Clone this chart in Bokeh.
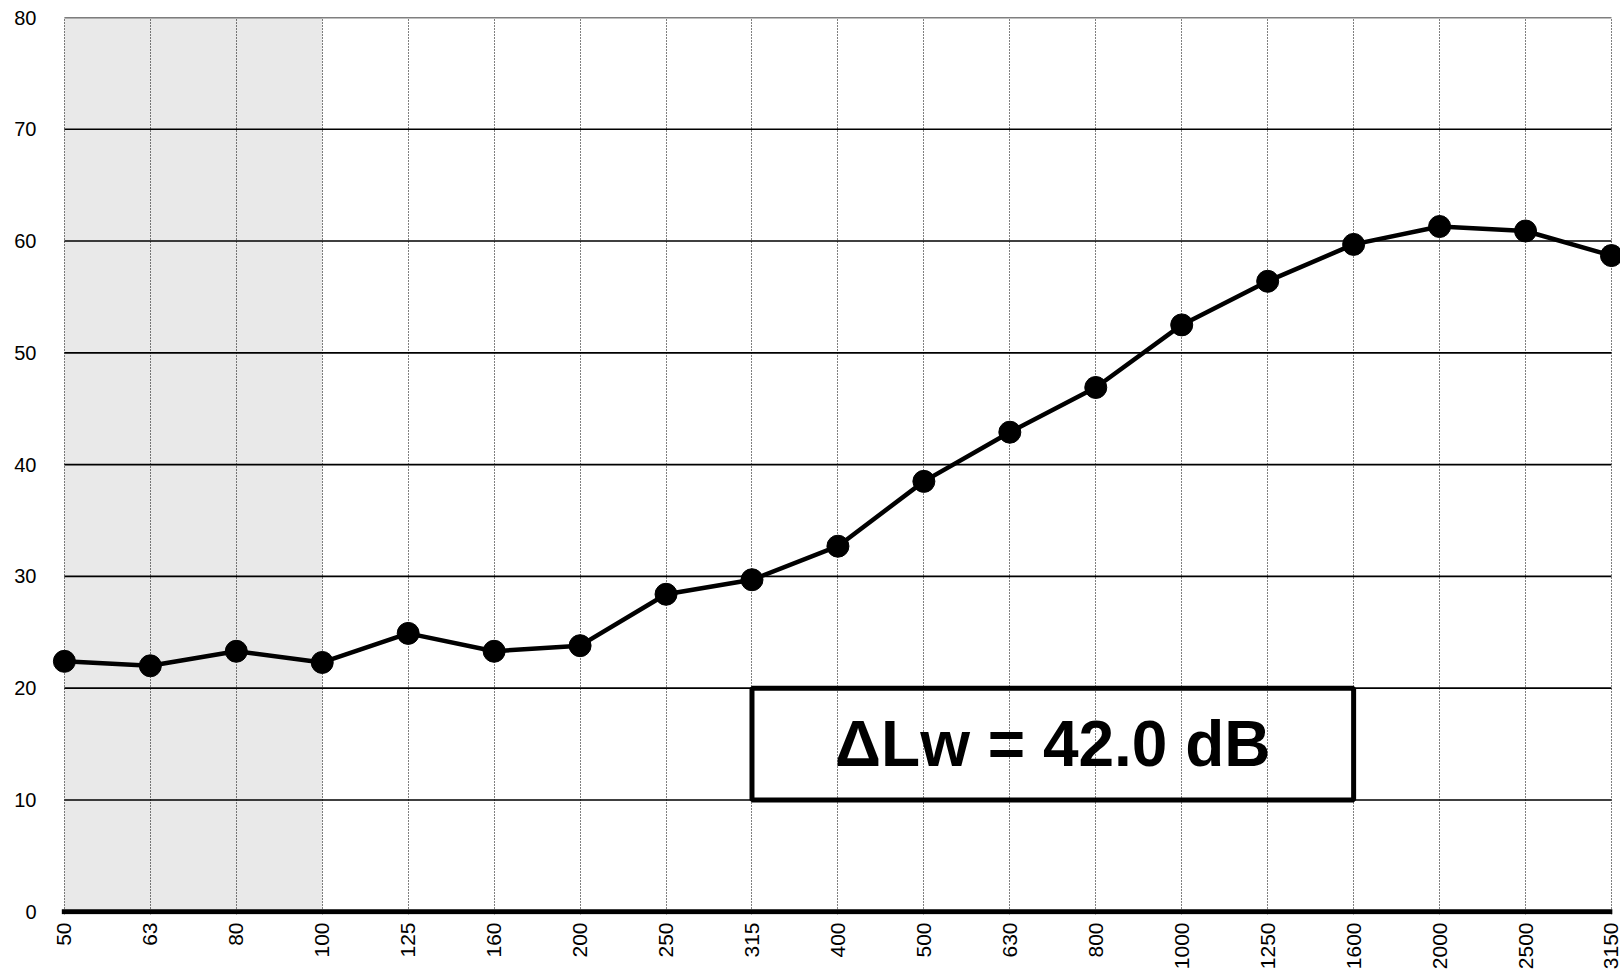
import math

from bokeh.embed import file_html
from bokeh.resources import INLINE
from bokeh.plotting import figure
from bokeh.models import Range1d, FixedTicker, ColumnDataSource
from bokeh.core.properties import value

# Third-octave band centre frequencies (Hz)
freqs = ["50", "63", "80", "100", "125", "160", "200", "250", "315", "400",
         "500", "630", "800", "1000", "1250", "1600", "2000", "2500", "3150"]

# Measured improvement per band (dB)
delta_l = [22.4, 22.0, 23.3, 22.3, 24.9, 23.3, 23.8, 28.4, 29.7, 32.7,
           38.5, 42.9, 46.9, 52.5, 56.4, 59.7, 61.3, 60.9, 58.7]

y_ticks = [0, 10, 20, 30, 40, 50, 60, 70, 80]

# Low-frequency band range that is shaded
shade_from, shade_to = "50", "100"

# Result box: band span and level span
box_from, box_to = "315", "1600"
box_low, box_high = 10, 20
result_label = "\u0394Lw = 42.0 dB"

FONT = "Liberation Sans"

x_idx = list(range(len(freqs)))
x_first, x_last = x_idx[0], x_idx[-1]
y_lo, y_hi = y_ticks[0], y_ticks[-1]
src = ColumnDataSource(dict(x=x_idx, y=delta_l))

# the frame is a little wider than the band range so end markers are not clipped
p = figure(width=1620, height=972, output_backend="svg", toolbar_location=None,
           x_range=Range1d(x_first - 0.15, x_last + 0.105),
           y_range=Range1d(y_lo - 0.25, y_hi),
           min_border_left=51, min_border_right=0, min_border_top=17, min_border_bottom=57)
p.outline_line_color = None
p.background_fill_color = "white"
p.border_fill_color = "white"

# shaded low-frequency region, beneath the grid
p.quad(left=[freqs.index(shade_from)], right=[freqs.index(shade_to)],
       bottom=[y_lo], top=[y_hi],
       fill_color="#e9e9e9", line_color=None, level="image")

# vertical dotted grid at every band
p.xgrid.ticker = FixedTicker(ticks=x_idx)
p.xgrid.grid_line_color = "black"
p.xgrid.grid_line_dash = "1 2"
p.xgrid.grid_line_width = 1
p.xgrid.bounds = (y_lo, y_hi)

# horizontal grid lines limited to the band range
p.ygrid.grid_line_color = None
p.segment(x0=[x_first] * (len(y_ticks) - 1), x1=[x_last] * (len(y_ticks) - 1),
          y0=y_ticks[1:], y1=y_ticks[1:], line_color="black", line_width=1.6,
          level="underlay")

# heavy baseline at 0 dB
p.segment(x0=[x_first - 0.03], x1=[x_last + 0.01], y0=[y_lo], y1=[y_lo],
          line_color="black", line_width=5)

# x axis
xa = p.xaxis[0]
xa.ticker = FixedTicker(ticks=x_idx)
xa.major_label_overrides = {i: f for i, f in enumerate(freqs)}
xa.major_label_orientation = math.pi / 2
xa.major_label_text_font = FONT
xa.major_label_text_font_size = "21px"
xa.major_label_text_color = "black"
xa.major_label_standoff = 8
xa.major_tick_in = 0
xa.major_tick_out = 0
xa.minor_tick_in = 0
xa.minor_tick_out = 0
xa.axis_line_color = None

# y axis
ya = p.yaxis[0]
ya.ticker = FixedTicker(ticks=y_ticks)
ya.major_label_text_font = FONT
ya.major_label_text_font_size = "20px"
ya.major_label_text_color = "black"
ya.major_label_standoff = 15
ya.major_tick_in = 0
ya.major_tick_out = 0
ya.minor_tick_in = 0
ya.minor_tick_out = 0
ya.axis_line_color = None

# result box
bx0, bx1 = freqs.index(box_from), freqs.index(box_to)
p.quad(left=[bx0], right=[bx1], bottom=[box_low], top=[box_high],
       fill_color=None, line_color="black", line_width=5)
p.text(x=[(bx0 + bx1) / 2], y=[(box_low + box_high) / 2], text=[result_label],
       text_font=value(FONT), text_font_style="bold", text_font_size="64px",
       text_align="center", text_baseline="middle", text_color="black")

# measured curve
p.line("x", "y", source=src, line_color="black", line_width=4.5)
p.scatter("x", "y", source=src, size=22, fill_color="black", line_color="black")

open("out.html", "w").write(file_html(p, INLINE))
